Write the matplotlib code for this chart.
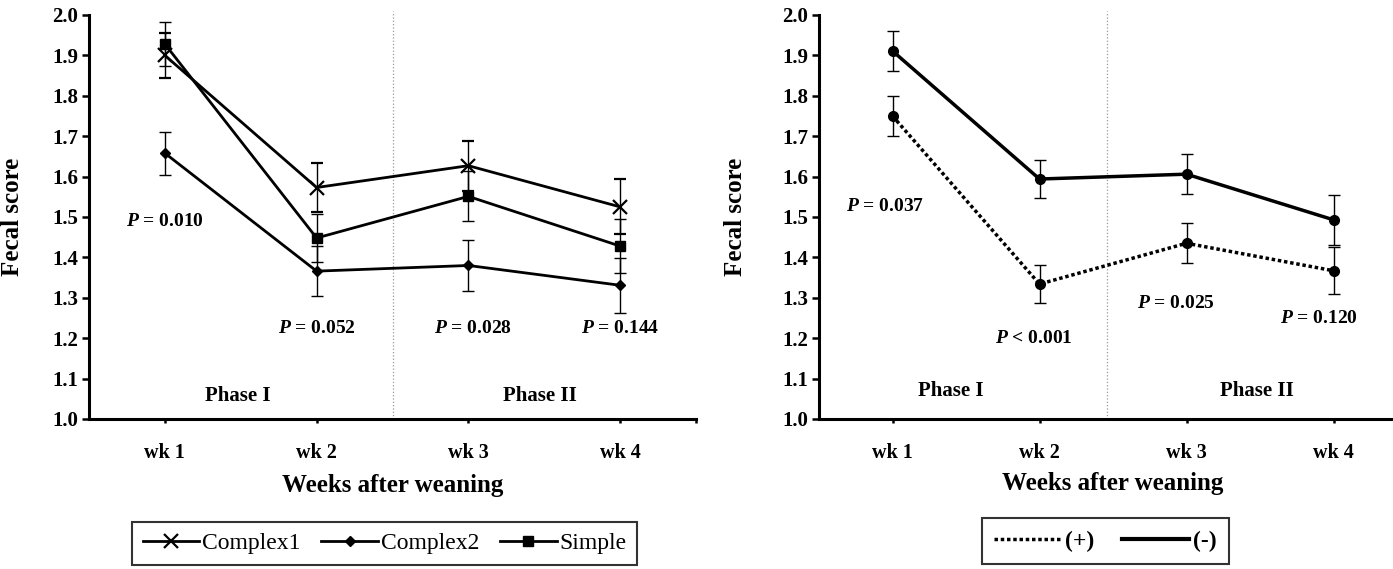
import numpy as np
import matplotlib
matplotlib.use("Agg")
import matplotlib.pyplot as plt
from matplotlib.lines import Line2D

# ── Data ──────────────────────────────────────────────────────────────────────
weeks = ["wk 1", "wk 2", "wk 3", "wk 4"]

complex1    = [1.900, 1.573, 1.627, 1.525]
complex1_se = [0.055, 0.060, 0.062, 0.068]
complex2    = [1.658, 1.366, 1.380, 1.331]
complex2_se = [0.053, 0.061, 0.062, 0.068]
simple      = [1.928, 1.448, 1.551, 1.428]
simple_se   = [0.054, 0.059, 0.062, 0.066]
p_left      = ["0.010", "0.052", "0.028", "0.144"]

plus       = [1.750, 1.334, 1.435, 1.367]
plus_se    = [0.050, 0.047, 0.050, 0.058]
minus      = [1.911, 1.594, 1.606, 1.493]
minus_se   = [0.049, 0.046, 0.050, 0.062]
p_right    = ["= 0.037", "< 0.001", "= 0.025", "= 0.120"]

# ── Style ─────────────────────────────────────────────────────────────────────
plt.rcParams.update({
    "font.family": "Liberation Serif",
    "font.weight": "bold",
    "mathtext.fontset": "custom",
    "mathtext.rm": "Liberation Serif:bold",
    "mathtext.it": "Liberation Serif:italic:bold",
    "axes.spines.top": False,
    "axes.spines.right": False,
})

fig = plt.figure(figsize=(13.93, 5.69), dpi=100)
axL = fig.add_axes([89 / 1393, 1 - 419 / 569, 607 / 1393, 404 / 569])
axR = fig.add_axes([819 / 1393, 1 - 419 / 569, 588 / 1393, 404 / 569])

x = np.arange(1, len(weeks) + 1)


def style_axis(ax):
    ax.set_xlim(0.5, 4.5)
    ax.set_ylim(1.0, 2.0)
    ax.set_yticks(np.arange(1.0, 2.01, 0.1))
    ax.set_yticklabels([f"{v:.1f}" for v in np.arange(1.0, 2.01, 0.1)])
    ax.set_xticks(x)
    ax.set_xticklabels(weeks)
    ax.set_xticks([4.5], minor=True)
    for s in ("left", "bottom"):
        ax.spines[s].set_linewidth(2.2)
    ax.tick_params(axis="y", direction="out", length=5, width=1.8, pad=3, labelsize=15)
    ax.tick_params(axis="x", which="both", direction="out", length=3, width=1.8, pad=14, labelsize=14.5)
    ax.set_ylabel("Fecal score", fontsize=18, fontweight="bold")
    ax.set_xlabel("Weeks after weaning", fontsize=18, fontweight="bold")


errkw = dict(ecolor="black", elinewidth=1.0, capsize=4.5, capthick=1.0)

# ── Left panel ───────────────────────────────────────────────────────────────
axL.errorbar(x, complex1, yerr=complex1_se, color="black", lw=2, marker="x",
             ms=10, mew=1.6, label="Complex1", **errkw)
axL.errorbar(x, complex2, yerr=complex2_se, color="black", lw=2, marker="D",
             ms=5, label="Complex2", **errkw)
axL.errorbar(x, simple, yerr=simple_se, color="black", lw=2, marker="s",
             ms=7, label="Simple", **errkw)
axL.plot([2.5, 2.5], [1.0, 2.01], color="#999999", lw=0.9, ls=":", clip_on=False)

style_axis(axL)
axL.xaxis.set_label_coords(0.5, -0.135)
axL.yaxis.set_label_coords(-0.107, 0.5)

p_pos_left = [(1.0, 1.49), (2.0, 1.225), (3.03, 1.223), (4.0, 1.223)]
for (px, py), p in zip(p_pos_left, p_left):
    axL.text(px, py, rf"$P$ = {p}", ha="center", va="center", fontsize=14)
axL.text(1.48, 1.058, "Phase I", ha="center", va="center", fontsize=15)
axL.text(3.47, 1.058, "Phase II", ha="center", va="center", fontsize=15)

handles_L = [
    Line2D([], [], color="black", lw=2, marker="x", ms=10, mew=1.6),
    Line2D([], [], color="black", lw=2, marker="D", ms=5),
    Line2D([], [], color="black", lw=2, marker="s", ms=7),
]
legL = fig.legend(handles_L, ["Complex1", "Complex2", "Simple"], loc="center",
                  bbox_to_anchor=(384.5 / 1393, 1 - 543.5 / 569), ncol=3,
                  fancybox=False, edgecolor="black", handlelength=2.4,
                  handletextpad=0.1, columnspacing=0.9, borderpad=0.45,
                  borderaxespad=0.0,
                  prop={"family": "Liberation Serif", "weight": "normal", "size": 17})
legL.get_frame().set_linewidth(1.5)

# ── Right panel ──────────────────────────────────────────────────────────────
axR.errorbar(x, plus, yerr=plus_se, color="black", lw=2.5, ls=(0, (1, 0.8)),
             marker="o", ms=7, label="(+)", **errkw)
axR.errorbar(x, minus, yerr=minus_se, color="black", lw=2.5, marker="o",
             ms=7, label="(-)", **errkw)
axR.plot([2.46, 2.46], [1.0, 2.01], color="#999999", lw=0.9, ls=":", clip_on=False)

style_axis(axR)
axR.xaxis.set_label_coords(0.5, -0.13)
axR.yaxis.set_label_coords(-0.122, 0.5)

p_pos_right = [(0.95, 1.527), (1.96, 1.20), (2.93, 1.285), (3.90, 1.248)]
for (px, py), p in zip(p_pos_right, p_right):
    axR.text(px, py, rf"$P$ {p}", ha="center", va="center", fontsize=14)
axR.text(1.40, 1.069, "Phase I", ha="center", va="center", fontsize=15)
axR.text(3.48, 1.069, "Phase II", ha="center", va="center", fontsize=15)

handles_R = [
    Line2D([], [], color="black", lw=2.5, ls=(0, (1, 0.8))),
    Line2D([], [], color="black", lw=3),
]
legR = fig.legend(handles_R, ["(+)", "(-)"], loc="center",
                  bbox_to_anchor=(1105.5 / 1393, 1 - 541 / 569), ncol=2,
                  fancybox=False, edgecolor="black", handlelength=2.8,
                  handletextpad=0.2, columnspacing=1.2, borderpad=0.5,
                  borderaxespad=0.0,
                  prop={"family": "Liberation Serif", "weight": "bold", "size": 17})
legR.get_frame().set_linewidth(1.5)

fig.savefig("out.png", dpi=100)
